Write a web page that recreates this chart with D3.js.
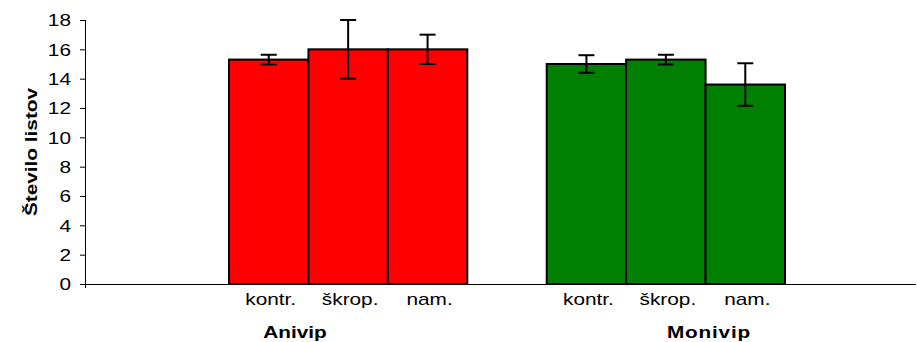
<!DOCTYPE html>
<html>
<head>
<meta charset="utf-8">
<script src="https://cdn.jsdelivr.net/npm/d3@7"></script>
<style>
  body { margin: 0; background: #fff; }
  text { font-family: Arial, "Liberation Sans", sans-serif; }
</style>
</head>
<body>
<svg id="chart" width="917" height="342"></svg>
<script>
// data
const groups = ["Anivip", "Monivip"];
const treatments = ["kontr.", "škrop.", "nam."];
const aniValues = [15.3, 16.0, 16.0];
const aniErrors = [0.33, 2.0, 1.0];
const monValues = [15.0, 15.3, 13.6];
const monErrors = [0.6, 0.33, 1.45];
const groupColors = ["#ff0000", "#008000"];
const yTicks = [0, 2, 4, 6, 8, 10, 12, 14, 16, 18];

var svg = d3.select("#chart");

// plot box
var plotLeft = 86, plotRight = 916, plotTop = 20, plotBottom = 284;
var stretch = 1.3; // the text in the picture is drawn wide

var y = d3.scaleLinear().domain([0, 18]).range([plotBottom, plotTop]);

// bars sit on slots, one empty slot between the two groups
var slots = ["a0", "a1", "a2", "gap", "m0", "m1", "m2"];
var x = d3.scaleBand().domain(slots).range([229, 785]).padding(0);

var bars = [];
treatments.forEach(function(t, i) {
  bars.push({ slot: "a" + i, label: t, value: aniValues[i], err: aniErrors[i], color: groupColors[0] });
});
treatments.forEach(function(t, i) {
  bars.push({ slot: "m" + i, label: t, value: monValues[i], err: monErrors[i], color: groupColors[1] });
});

function wide(sel, px, py, rot) {
  sel.attr("x", 0).attr("y", 0)
    .attr("transform", "translate(" + px + "," + py + ")" + (rot ? " rotate(" + rot + ")" : "") + " scale(" + stretch + ",1)");
}

// y axis
var yAxis = d3.axisLeft(y).tickValues(yTicks).tickSize(6).tickFormat(d3.format("d"));
var gy = svg.append("g").attr("transform", "translate(" + plotLeft + ",0)").call(yAxis);
gy.select(".domain").attr("d", "M-0.5," + plotTop + "V" + (plotBottom + 4)).attr("stroke", "#000");
gy.selectAll(".tick line").attr("stroke", "#000");
gy.selectAll(".tick text")
  .attr("font-size", 16).attr("fill", "#000").attr("dy", "0.36em")
  .each(function() { wide(d3.select(this), -15, 0); });

// x axis line
svg.append("line")
  .attr("x1", plotLeft).attr("x2", plotRight)
  .attr("y1", plotBottom + 0.5).attr("y2", plotBottom + 0.5)
  .attr("stroke", "#000").attr("stroke-width", 1);

// bars
svg.append("g").selectAll("rect")
  .data(bars)
  .enter().append("rect")
    .attr("x", function(d) { return x(d.slot); })
    .attr("y", function(d) { return y(d.value); })
    .attr("width", x.bandwidth())
    .attr("height", function(d) { return y(0) - y(d.value); })
    .attr("fill", function(d) { return d.color; })
    .attr("stroke", "#000")
    .attr("stroke-width", 2);

// error bars
var eb = svg.append("g").selectAll("g")
  .data(bars)
  .enter().append("g")
    .attr("stroke", "#000").attr("stroke-width", 2);
var cx = function(d) { return x(d.slot) + x.bandwidth() / 2; };
eb.append("line")
  .attr("x1", cx).attr("x2", cx)
  .attr("y1", function(d) { return y(d.value + d.err); })
  .attr("y2", function(d) { return y(d.value - d.err); });
eb.append("line")
  .attr("x1", function(d) { return cx(d) - 8; }).attr("x2", function(d) { return cx(d) + 8; })
  .attr("y1", function(d) { return y(d.value + d.err); })
  .attr("y2", function(d) { return y(d.value + d.err); });
eb.append("line")
  .attr("x1", function(d) { return cx(d) - 8; }).attr("x2", function(d) { return cx(d) + 8; })
  .attr("y1", function(d) { return y(d.value - d.err); })
  .attr("y2", function(d) { return y(d.value - d.err); });

// treatment labels under each bar
svg.append("g").selectAll("text")
  .data(bars)
  .enter().append("text")
    .attr("text-anchor", "middle")
    .attr("font-size", 16)
    .text(function(d) { return d.label; })
    .each(function(d) { wide(d3.select(this), cx(d) + 2, 305); });

// group labels
var gx = d3.scalePoint().domain(groups).range([295, 709]);
svg.append("g").selectAll("text")
  .data(groups)
  .enter().append("text")
    .attr("text-anchor", "middle")
    .attr("font-size", 16)
    .attr("font-weight", "bold")
    .attr("letter-spacing", function(d) { return d == "Monivip" ? 0.6 : 0; })
    .text(function(d) { return d; })
    .each(function(d) { wide(d3.select(this), gx(d), 338); });

// y title
svg.append("text")
  .attr("text-anchor", "middle")
  .attr("font-size", 16)
  .attr("font-weight", "bold")
  .text("Število listov")
  .call(wide, 37, 152, -90);
</script>
</body>
</html>
